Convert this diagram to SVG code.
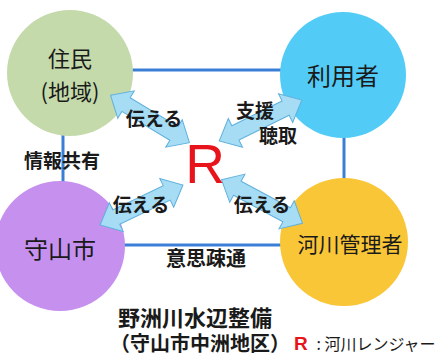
<svg xmlns="http://www.w3.org/2000/svg" width="438" height="355" viewBox="0 0 438 355">
<style>
.t{font-family:"Noto Sans CJK JP","Noto Sans",sans-serif;fill:#1a1a1a;text-anchor:middle;dominant-baseline:central}
.b{font-weight:bold}
.ln{stroke:#3A7FD5;stroke-width:3;fill:none}
.arr{fill:#A6DDF5;stroke:#5FB0DC;stroke-width:1}
</style>
<defs>
<path id="dbl" d="M -46 0 L -28 -16 L -28 -8 L 28 -8 L 28 -16 L 46 0 L 28 16 L 28 8 L -28 8 L -28 16 Z"/>
</defs>
<rect width="438" height="355" fill="#ffffff"/>
<g id="connectors">
<line class="ln" x1="130" y1="70" x2="283" y2="70"/>
<line class="ln" x1="63" y1="134" x2="63" y2="184"/>
<line class="ln" x1="344" y1="136" x2="344" y2="180"/>
<line class="ln" x1="122" y1="245" x2="284" y2="245"/>
</g>
<g id="node-jumin">
<circle cx="70" cy="73" r="63" fill="#C4DAAB"/>
<text class="t" x="70" y="57" font-size="22">住民</text>
<text class="t" x="70" y="90" font-size="22">(地域)</text>
</g>
<g id="node-riyousha">
<circle cx="343" cy="75" r="63" fill="#52CCF6"/>
<text class="t" x="343" y="74" font-size="24">利用者</text>
</g>
<g id="node-moriyama">
<circle cx="60" cy="246" r="65" fill="#C690EE"/>
<text class="t" x="60" y="247" font-size="24">守山市</text>
</g>
<g id="node-kasen">
<circle cx="344" cy="242" r="64" fill="#F9C637"/>
<text class="t" x="350" y="243" font-size="21">河川管理者</text>
</g>
<g id="arrows">
<use href="#dbl" class="arr" transform="translate(150,119) rotate(31)"/>
<use href="#dbl" class="arr" transform="translate(260.5,120.5) rotate(-26.3)"/>
<use href="#dbl" class="arr" transform="translate(141.5,205) rotate(-25.7)"/>
<use href="#dbl" class="arr" transform="translate(262,201.5) rotate(28.3)"/>
</g>
<g id="node-R">
<text x="205" y="183" font-family="Liberation Sans,Arial,sans-serif" font-size="55" fill="#E8141B" text-anchor="middle">R</text>
</g>
<g id="labels">
<text class="t b" x="154" y="117" font-size="19">伝える</text>
<text class="t b" x="255" y="109" font-size="19">支援</text>
<text class="t b" x="278" y="134" font-size="19">聴取</text>
<text class="t b" x="141" y="203" font-size="19">伝える</text>
<text class="t b" x="262" y="203" font-size="19">伝える</text>
<text class="t b" x="62" y="159" font-size="19">情報共有</text>
<text class="t b" x="206" y="257" font-size="20">意思疎通</text>
<text class="t b" x="195" y="316" font-size="22">野洲川水辺整備</text>
<text class="t b" x="200" y="342" font-size="20">（守山市中洲地区）</text>
<text x="294" y="350" font-family="Liberation Sans,Arial,sans-serif" font-size="19" font-weight="bold" fill="#E8141B">R</text>
<text class="t" x="376" y="343" font-size="16">: 河川レンジャー</text>
</g>
</svg>
